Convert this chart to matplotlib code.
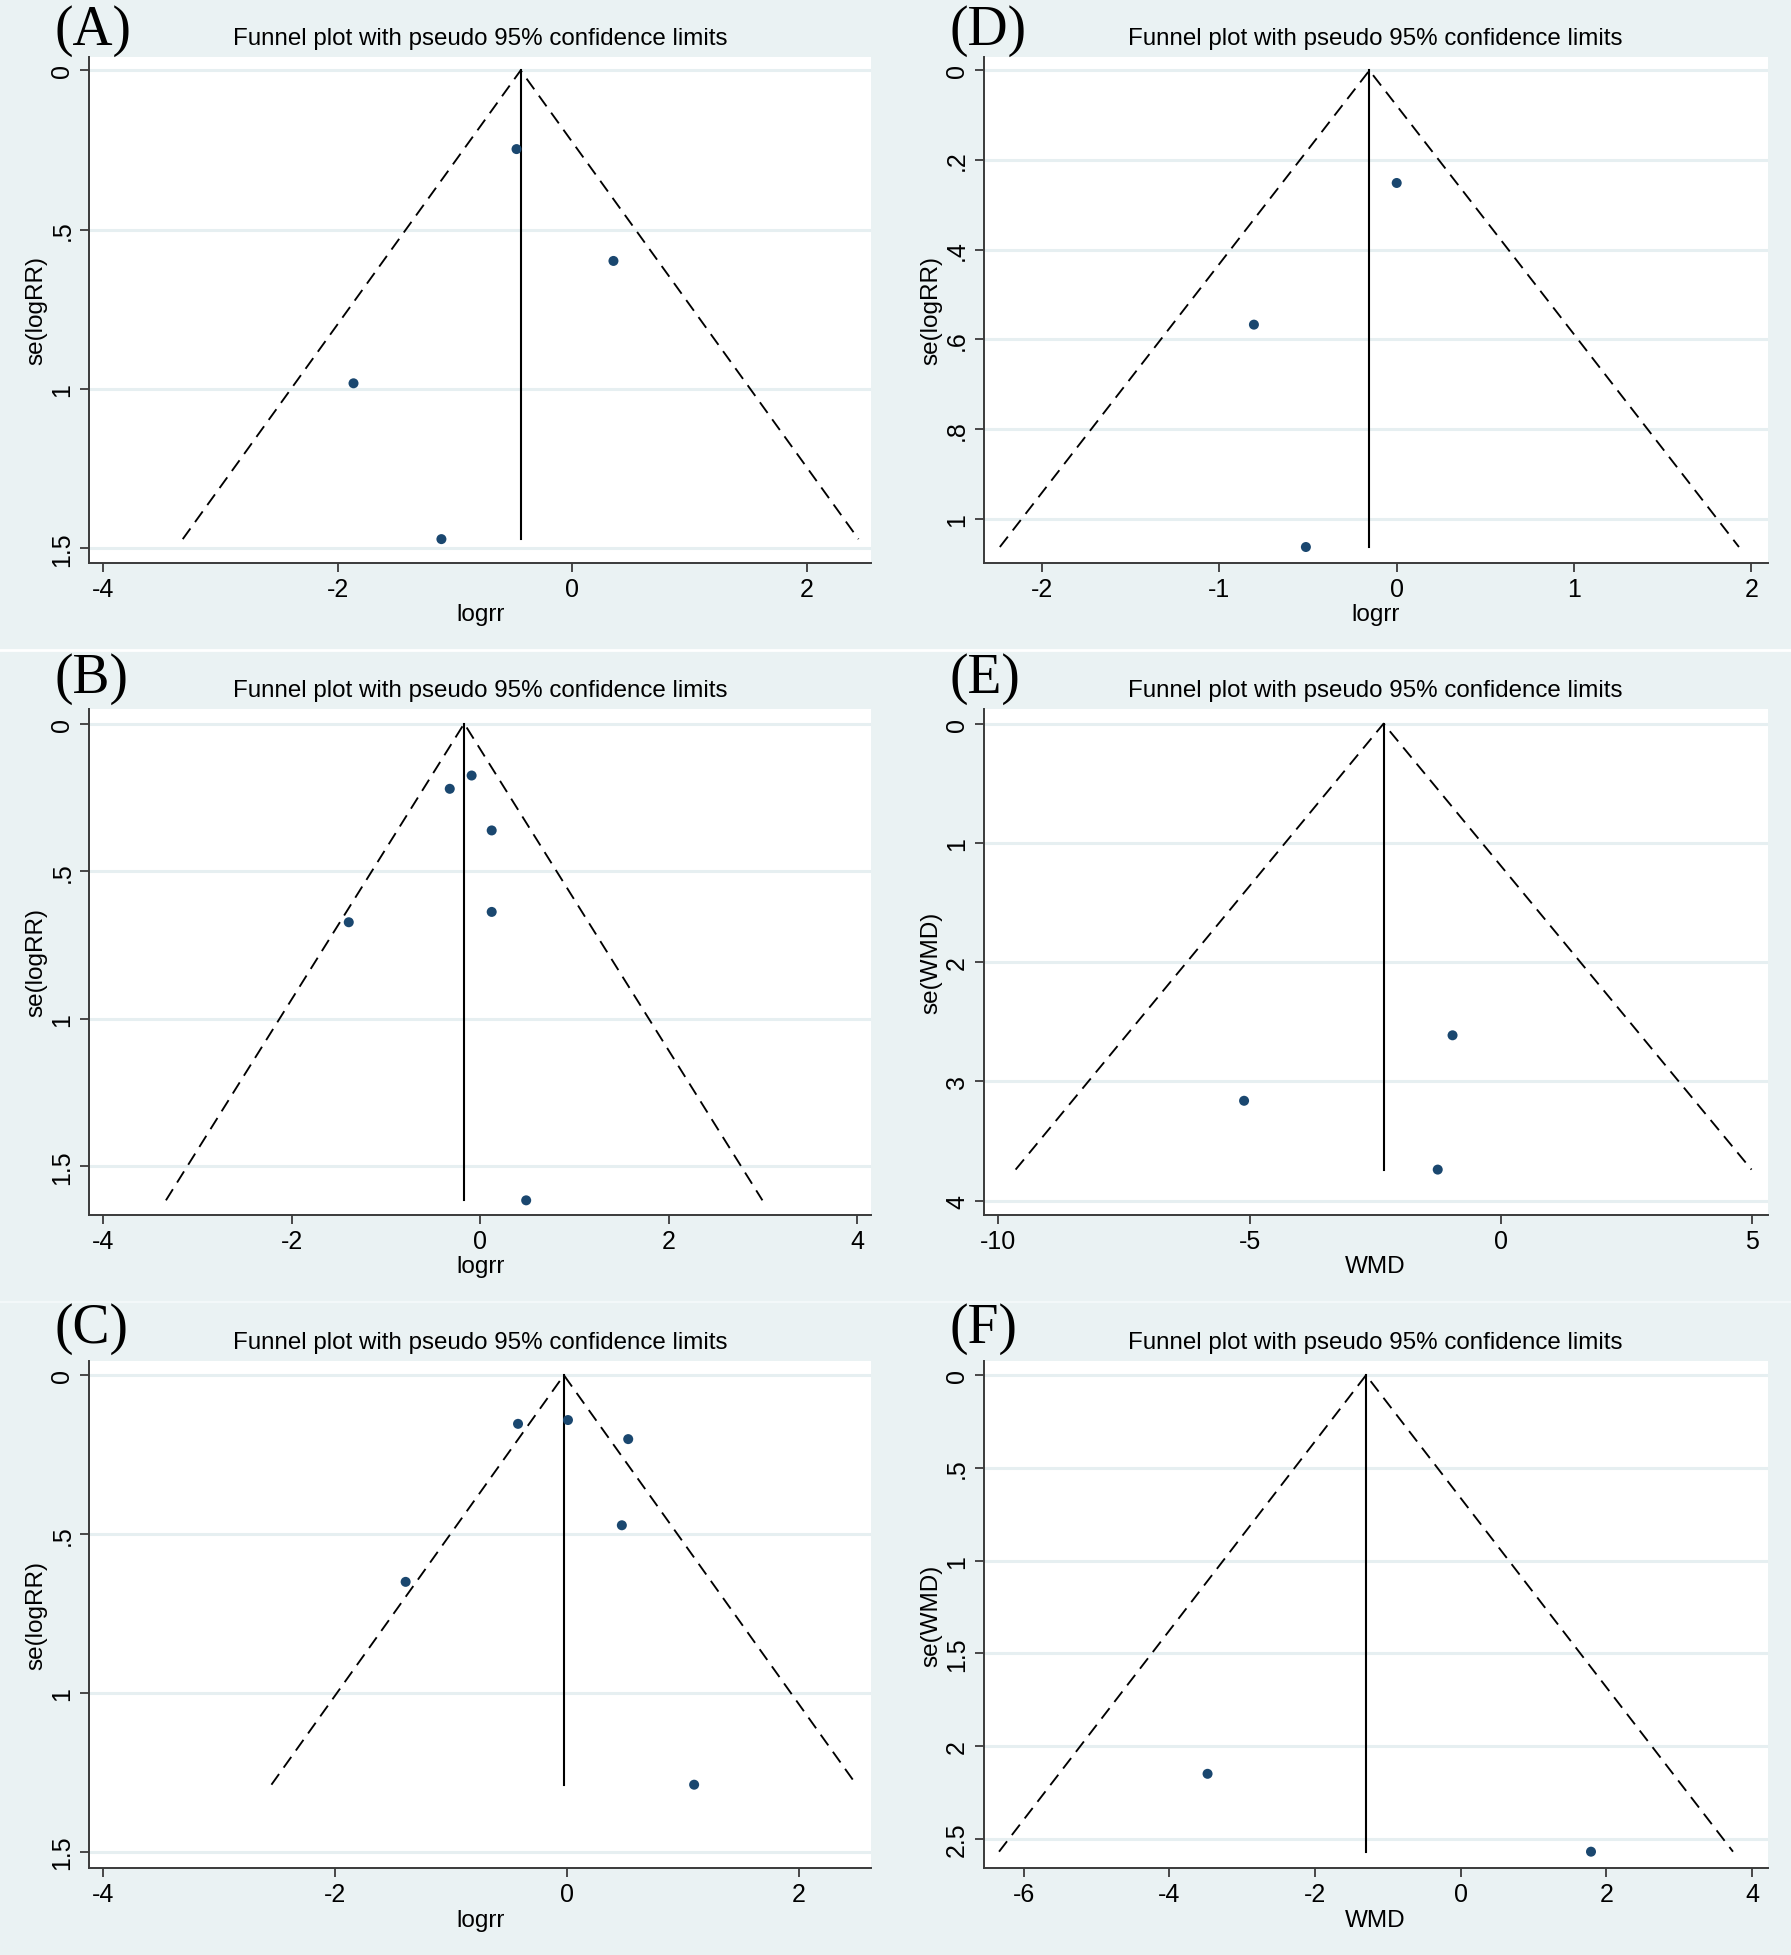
import matplotlib
matplotlib.use("Agg")
import matplotlib.pyplot as plt
import numpy as np

# ---------------- data ----------------
panel_letters = ["A", "B", "C", "D", "E", "F"]

a_x = [-0.475, 0.352, -1.866, -1.116]
a_se = [0.247, 0.598, 0.982, 1.471]
a_theta = -0.44

b_x = [-0.091, -0.323, 0.122, 0.122, -1.395, 0.488]
b_se = [0.176, 0.221, 0.362, 0.638, 0.673, 1.615]
b_theta = -0.17

c_x = [-0.421, 0.010, 0.530, 0.475, -1.391, 1.099]
c_se = [0.153, 0.141, 0.201, 0.472, 0.650, 1.288]
c_theta = -0.025

d_x = [0.000, -0.805, -0.512]
d_se = [0.251, 0.567, 1.063]
d_theta = -0.154

e_x = [-0.956, -5.108, -1.251]
e_se = [2.613, 3.162, 3.739]
e_theta = -2.33

f_x = [-3.475, 1.788]
f_se = [2.150, 2.570]
f_theta = -1.30

x_titles = ["logrr", "logrr", "logrr", "logrr", "WMD", "WMD"]
y_titles = ["se(logRR)", "se(logRR)", "se(logRR)", "se(logRR)", "se(WMD)", "se(WMD)"]
title_text = "Funnel plot with pseudo 95% confidence limits"

a_xticks = [-4, -2, 0, 2]
b_xticks = [-4, -2, 0, 2, 4]
c_xticks = [-4, -2, 0, 2]
d_xticks = [-2, -1, 0, 1, 2]
e_xticks = [-10, -5, 0, 5]
f_xticks = [-6, -4, -2, 0, 2, 4]

a_yticks = [0, 0.5, 1, 1.5]
a_ylabels = ["0", ".5", "1", "1.5"]
b_yticks = [0, 0.5, 1, 1.5]
b_ylabels = ["0", ".5", "1", "1.5"]
c_yticks = [0, 0.5, 1, 1.5]
c_ylabels = ["0", ".5", "1", "1.5"]
d_yticks = [0, 0.2, 0.4, 0.6, 0.8, 1]
d_ylabels = ["0", ".2", ".4", ".6", ".8", "1"]
e_yticks = [0, 1, 2, 3, 4]
e_ylabels = ["0", "1", "2", "3", "4"]
f_yticks = [0, 0.5, 1, 1.5, 2, 2.5]
f_ylabels = ["0", ".5", "1", "1.5", "2", "2.5"]

a_xlim = (-4.123, 2.553); a_ylim = (-0.042, 1.545)
b_xlim = (-4.152, 4.152); b_ylim = (-0.049, 1.664)
c_xlim = (-4.124, 2.629); c_ylim = (-0.045, 1.550)
d_xlim = (-2.329, 2.091); d_ylim = (-0.030, 1.098)
e_xlim = (-10.296, 5.319); e_ylim = (-0.122, 4.118)
f_xlim = (-6.549, 4.212); f_ylim = (-0.077, 2.658)

# ---------------- style ----------------
BG = "#EAF2F3"
GRID = "#E6EFF1"
NAVY = "#1A476F"
SPINE = "#3a3a3a"
SANS = ["Liberation Sans", "DejaVu Sans"]
SERIF = ["Liberation Serif", "DejaVu Serif"]
plt.rcParams["font.family"] = SANS

W, H = 1791, 1956
fig = plt.figure(figsize=(W / 100, H / 100), dpi=100, facecolor=BG)

# panel-separating lines
fig.add_artist(plt.Line2D([0, 1], [1 - 651 / H, 1 - 651 / H], color="white", lw=2.0, transform=fig.transFigure))
fig.add_artist(plt.Line2D([0, 1], [1 - 1303 / H, 1 - 1303 / H], color="#F3F8F9", lw=1.5, transform=fig.transFigure))

cols = [(89, 871.4), (983.6, 1767.6)]
rows = [(58, 563.7), (710.1, 1215.8), (1361.9, 1869.0)]
label_y = [31, 679, 1329]
title_y = [39.5, 691.5, 1343]
label_x = [54.5, 949]

panels = [
    (a_x, a_se, a_theta, a_xticks, a_yticks, a_ylabels, a_xlim, a_ylim),
    (b_x, b_se, b_theta, b_xticks, b_yticks, b_ylabels, b_xlim, b_ylim),
    (c_x, c_se, c_theta, c_xticks, c_yticks, c_ylabels, c_xlim, c_ylim),
    (d_x, d_se, d_theta, d_xticks, d_yticks, d_ylabels, d_xlim, d_ylim),
    (e_x, e_se, e_theta, e_xticks, e_yticks, e_ylabels, e_xlim, e_ylim),
    (f_x, f_se, f_theta, f_xticks, f_yticks, f_ylabels, f_xlim, f_ylim),
]

for i, (xs, ses, theta, xt, yt, yl, xlim, ylim) in enumerate(panels):
    c = i // 3
    r = i % 3
    x0, x1 = cols[c]
    y0, y1 = rows[r]
    ax = fig.add_axes([x0 / W, 1 - y1 / H, (x1 - x0) / W, (y1 - y0) / H])
    ax.set_facecolor("white")
    semax = max(ses)
    # gridlines
    for t in yt:
        ax.axhline(t, color=GRID, lw=2.2, zorder=0)
    # funnel
    ax.plot([theta - 1.96 * semax, theta, theta + 1.96 * semax], [semax, 0, semax],
            color="black", lw=1.35, ls=(0, (7.0, 4.2)), zorder=2)
    ax.plot([theta, theta], [0, semax], color="black", lw=1.5, zorder=2)
    ax.scatter(xs, ses, s=52, color=NAVY, edgecolors="none", zorder=3)

    ax.set_xlim(*xlim)
    ax.set_ylim(ylim[1], ylim[0])
    ax.set_xticks(xt)
    ax.set_xticklabels([str(v) for v in xt])
    ax.set_yticks(yt)
    ax.set_yticklabels(yl, rotation=90, va="center")
    for s in ["top", "right"]:
        ax.spines[s].set_visible(False)
    for s in ["left", "bottom"]:
        ax.spines[s].set_color(SPINE)
        ax.spines[s].set_linewidth(1.4)
    ax.tick_params(axis="both", length=6.5, width=1.3, color=SPINE, labelsize=18, labelcolor="black")
    ax.tick_params(axis="x", pad=3.5)
    ax.tick_params(axis="y", pad=4)
    ax.set_xlabel(x_titles[i], fontsize=17.5, labelpad=2)
    ax.set_ylabel(y_titles[i], fontsize=17.5, labelpad=2)

    fig.text((x0 + x1) / 2 / W, 1 - title_y[r] / H, title_text, ha="center", va="center",
             fontsize=17.4, family=SANS)
    fig.text(label_x[c] / W, 1 - label_y[r] / H, "(" + panel_letters[i] + ")", ha="left", va="center",
             fontsize=40, family=SERIF)

fig.savefig("out.png", dpi=100, facecolor=BG)
